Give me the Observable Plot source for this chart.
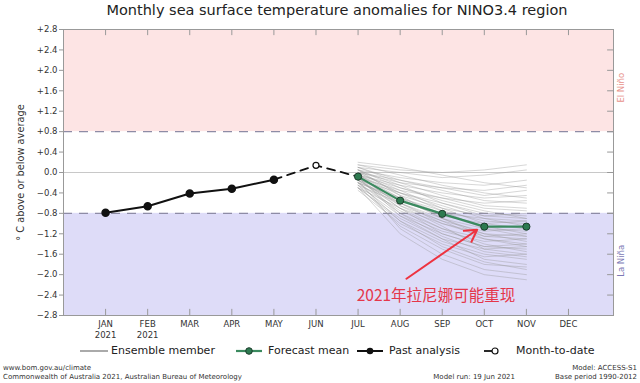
<!DOCTYPE html>
<html><head><meta charset="utf-8">
<script src="https://cdn.jsdelivr.net/npm/d3@7"></script>
<script src="https://cdn.jsdelivr.net/npm/@observablehq/plot@0.6"></script>
<style>
body{margin:0;width:640px;height:383px;position:relative;background:#fff;font-family:"DejaVu Sans",sans-serif;overflow:hidden}
#title{position:absolute;left:0;top:2px;width:640px;text-align:center;font-size:14.5px;color:#222;padding-left:34px;box-sizing:border-box}
#chart{position:absolute;left:0;top:24px}
.lg{position:absolute;top:343px;font-size:11px;color:#222;line-height:16px}
.ft{position:absolute;font-size:7px;color:#333;line-height:9px;white-space:nowrap}
</style></head><body>
<div id="title">Monthly sea surface temperature anomalies for NINO3.4 region</div>
<div id="chart"></div>
<div id="legend"></div>
<div class="ft" style="left:3px;top:364px">www.bom.gov.au/climate<br>Commonwealth of Australia 2021, Australian Bureau of Meteorology</div>
<div class="ft" style="right:125px;top:373px">Model run: 19 Jun 2021</div>
<div class="ft" style="right:3px;top:364px;text-align:right">Model: ACCESS-S1<br>Base period 1990-2012</div>
<script>
// Month tick labels (index 1..12)
const monthLabels = ["JAN\n2021","FEB\n2021","MAR","APR","MAY","JUN","JUL","AUG","SEP","OCT","NOV","DEC"];
const yTicks = [2.8,2.4,2.0,1.6,1.2,0.8,0.4,0.0,-0.4,-0.8,-1.2,-1.6,-2.0,-2.4,-2.8];

// Past analysis (JAN..MAY)
const pastMonths = [1,2,3,4,5];
const pastValues = [-0.79,-0.66,-0.41,-0.32,-0.14];
// Month-to-date (JUN)
const mtdMonth = [6];
const mtdValue = [0.14];
// Forecast mean (JUL..NOV)
const fcMonths = [7,8,9,10,11];
const fcValues = [-0.08,-0.55,-0.81,-1.06,-1.06];
// Ensemble members (JUL..NOV)
const ensemble = [
 [0.15,0.05,0.0,0.05,0.15],
 [0.1,0.0,-0.1,-0.05,0.05],
 [0.05,-0.1,-0.2,-0.25,-0.15],
 [0.2,0.1,-0.05,-0.2,-0.3],
 [0.0,-0.2,-0.3,-0.35,-0.25],
 [-0.05,-0.25,-0.4,-0.5,-0.45],
 [0.1,-0.15,-0.35,-0.55,-0.6],
 [-0.1,-0.35,-0.5,-0.6,-0.55],
 [0.05,-0.3,-0.5,-0.7,-0.75],
 [-0.15,-0.4,-0.6,-0.8,-0.85],
 [-0.05,-0.45,-0.7,-0.85,-0.8],
 [-0.2,-0.5,-0.75,-0.95,-1.0],
 [0.0,-0.4,-0.65,-0.9,-1.05],
 [-0.1,-0.55,-0.85,-1.0,-0.95],
 [-0.25,-0.6,-0.9,-1.1,-1.15],
 [-0.05,-0.5,-0.8,-1.05,-1.2],
 [-0.15,-0.65,-0.95,-1.15,-1.1],
 [-0.1,-0.6,-1.0,-1.2,-1.25],
 [-0.3,-0.7,-1.0,-1.25,-1.3],
 [0.05,-0.45,-0.9,-1.2,-1.35],
 [-0.2,-0.75,-1.1,-1.3,-1.4],
 [-0.1,-0.8,-1.15,-1.35,-1.3],
 [-0.25,-0.85,-1.2,-1.45,-1.5],
 [-0.15,-0.7,-1.1,-1.4,-1.55],
 [-0.3,-0.9,-1.3,-1.5,-1.45],
 [-0.05,-0.65,-1.05,-1.5,-1.6],
 [-0.2,-0.95,-1.35,-1.6,-1.7],
 [-0.35,-1.0,-1.4,-1.65,-1.6],
 [-0.1,-0.85,-1.3,-1.7,-1.8],
 [-0.25,-1.05,-1.5,-1.8,-1.85],
 [-0.15,-1.1,-1.6,-1.9,-2.0],
 [-0.3,-1.2,-1.7,-2.0,-2.1],
 [0.1,-0.2,-0.45,-0.65,-0.7],
 [0.15,-0.05,-0.25,-0.4,-0.5],
 [-0.05,-0.3,-0.55,-0.75,-0.9],
 [-0.2,-0.55,-0.8,-0.9,-0.95],
 [0.0,-0.35,-0.7,-1.0,-1.1],
 [-0.1,-0.5,-0.9,-1.25,-1.2],
 [-0.15,-0.6,-0.95,-1.3,-1.45],
 [-0.2,-0.8,-1.25,-1.55,-1.65],
 [0.05,-0.25,-0.6,-0.85,-0.9],
 [-0.05,-0.4,-0.75,-1.1,-1.25],
 [-0.1,-0.7,-1.2,-1.45,-1.4],
 [-0.3,-0.95,-1.45,-1.75,-1.9],
 [0.0,-0.15,-0.3,-0.45,-0.35]
];
// Regions
const bandNames = ["El Niño","La Niña"];
const bandLow = [0.8,-2.8];
const bandHigh = [2.8,-0.8];
const bandLabelY = [1.66,-1.73];
const thresholds = [0.8,-0.8];
// Annotation
const noteText = "2021年拉尼娜可能重现";
const arrowFrom = [8.15,-2.08];
const arrowTo = [9.83,-1.12];
const notePos = [8.85,-2.42];

const ensRows = ensemble.flatMap((m,i)=>m.map((v,j)=>({id:i,x:fcMonths[j],y:v})));
const past = pastMonths.map((m,i)=>({x:m,y:pastValues[i]}));
const dashed = [{x:pastMonths[4],y:pastValues[4]},{x:mtdMonth[0],y:mtdValue[0]},{x:fcMonths[0],y:fcValues[0]}];
const fc = fcMonths.map((m,i)=>({x:m,y:fcValues[i]}));
const bands = bandNames.map((n,i)=>({n,y1:bandLow[i],y2:bandHigh[i],ly:bandLabelY[i]}));
const fmt = v => v===0 ? "0.0" : (v>0?"+":"\u2212")+Math.abs(v).toFixed(1);
const X0=0, X1=13.07;
const months = d3.range(1,13);

const chart = Plot.plot({
  width:640, height:318,
  marginTop:5, marginBottom:27, marginLeft:63, marginRight:27,
  style:{fontFamily:"DejaVu Sans, sans-serif", fontSize:"8.5px", color:"#333", background:"transparent"},
  x:{domain:[X0,X1]},
  y:{domain:[-2.8,2.8]},
  marks:[
    Plot.rect(bands,{y1:"y1",y2:"y2",fill:(d,i)=>i===0?"#fde4e4":"#dedcf8"}),
    Plot.ruleY([0],{stroke:"#c8c8c8",strokeWidth:1.2}),
    Plot.ruleY(thresholds,{stroke:"#8e8ca6",strokeWidth:1.2,strokeDasharray:"9,7"}),
    Plot.line(ensRows,{x:"x",y:"y",z:"id",stroke:"#959595",strokeOpacity:0.42,strokeWidth:0.9}),
    Plot.line(dashed,{x:"x",y:"y",stroke:"#111",strokeWidth:1.8,strokeDasharray:"8,6"}),
    Plot.line(past,{x:"x",y:"y",stroke:"#111",strokeWidth:2}),
    Plot.dot(past,{x:"x",y:"y",r:3.5,fill:"#111",stroke:"#111"}),
    Plot.dot(mtdMonth.map((m,i)=>({x:m,y:mtdValue[i]})),{x:"x",y:"y",r:3,fill:"white",stroke:"#111",strokeWidth:1.2}),
    Plot.line(fc,{x:"x",y:"y",stroke:"#3b8a5f",strokeWidth:2.2}),
    Plot.dot(fc,{x:"x",y:"y",r:3.6,fill:"#2d7a50",stroke:"#1d3d2c",strokeWidth:1}),
    Plot.arrow([0],{x1:()=>arrowFrom[0],y1:()=>arrowFrom[1],x2:()=>arrowTo[0],y2:()=>arrowTo[1],stroke:"#ee3340",strokeWidth:2,headLength:10}),
    Plot.text([noteText],{x:()=>notePos[0],y:()=>notePos[1],text:d=>d,fill:"#e5364a",fontSize:15.5,fontFamily:"Noto Sans CJK SC, sans-serif"}),
    // inward ticks: top, bottom, right
    Plot.ruleX(months,{x:d=>d,y1:2.8,y2:2.68,stroke:"#999"}),
    Plot.ruleX(months,{x:d=>d,y1:-2.8,y2:-2.68,stroke:"#999"}),
    Plot.ruleY(yTicks,{y:d=>d,x1:X1-0.14,x2:X1,stroke:"#999"}),
    Plot.frame({stroke:"#999"}),
    Plot.axisY({ticks:yTicks,tickFormat:fmt,tickSize:4,tickPadding:2,stroke:"#999",fill:"#333",label:null}),
    Plot.axisX({ticks:months,tickFormat:d=>monthLabels[d-1],tickSize:0,tickPadding:3,lineHeight:1.35,fill:"#333",label:null}),
    Plot.text(["° C above or below average"],{frameAnchor:"left",textAnchor:"middle",dx:-43,rotate:-90,fontSize:9.8,fill:"#333",text:d=>d}),
    Plot.text(bands,{y:"ly",text:"n",frameAnchor:"right",textAnchor:"middle",dx:8,rotate:-90,fontSize:8.5,fill:(d,i)=>i===0?"#e8938c":"#7c79b5"})
  ]
});
document.getElementById("chart").appendChild(chart);

// Legend
const legendItems = [
  {label:"Ensemble member", ix:80, iw:28, tx:111, kind:"ens"},
  {label:"Forecast mean", ix:236, iw:26, tx:268, kind:"fc"},
  {label:"Past analysis", ix:357, iw:26, tx:389, kind:"past"},
  {label:"Month-to-date", ix:484, iw:15, tx:516, kind:"mtd"}
];
const lg = document.getElementById("legend");
legendItems.forEach(it=>{
  let icon;
  const h=16, cy=8;
  if(it.kind==="ens") icon=`<line x1="0" x2="${it.iw}" y1="${cy}" y2="${cy}" stroke="#aaa" stroke-width="2"/>`;
  if(it.kind==="fc") icon=`<line x1="0" x2="${it.iw}" y1="${cy}" y2="${cy}" stroke="#3b8a5f" stroke-width="2.2"/><circle cx="${it.iw/2}" cy="${cy}" r="3.3" fill="#2d7a50" stroke="#1d3d2c"/>`;
  if(it.kind==="past") icon=`<line x1="0" x2="${it.iw}" y1="${cy}" y2="${cy}" stroke="#111" stroke-width="2"/><circle cx="${it.iw/2}" cy="${cy}" r="3.3" fill="#111"/>`;
  if(it.kind==="mtd") icon=`<line x1="0" x2="8" y1="${cy}" y2="${cy}" stroke="#111" stroke-width="1.8"/><circle cx="11" cy="${cy}" r="3" fill="#fff" stroke="#111" stroke-width="1.2"/>`;
  lg.insertAdjacentHTML("beforeend",`<svg style="position:absolute;left:${it.ix}px;top:343px" width="${it.iw}" height="${h}">${icon}</svg><div class="lg" style="left:${it.tx}px">${it.label}</div>`);
});
</script>
</body></html>
